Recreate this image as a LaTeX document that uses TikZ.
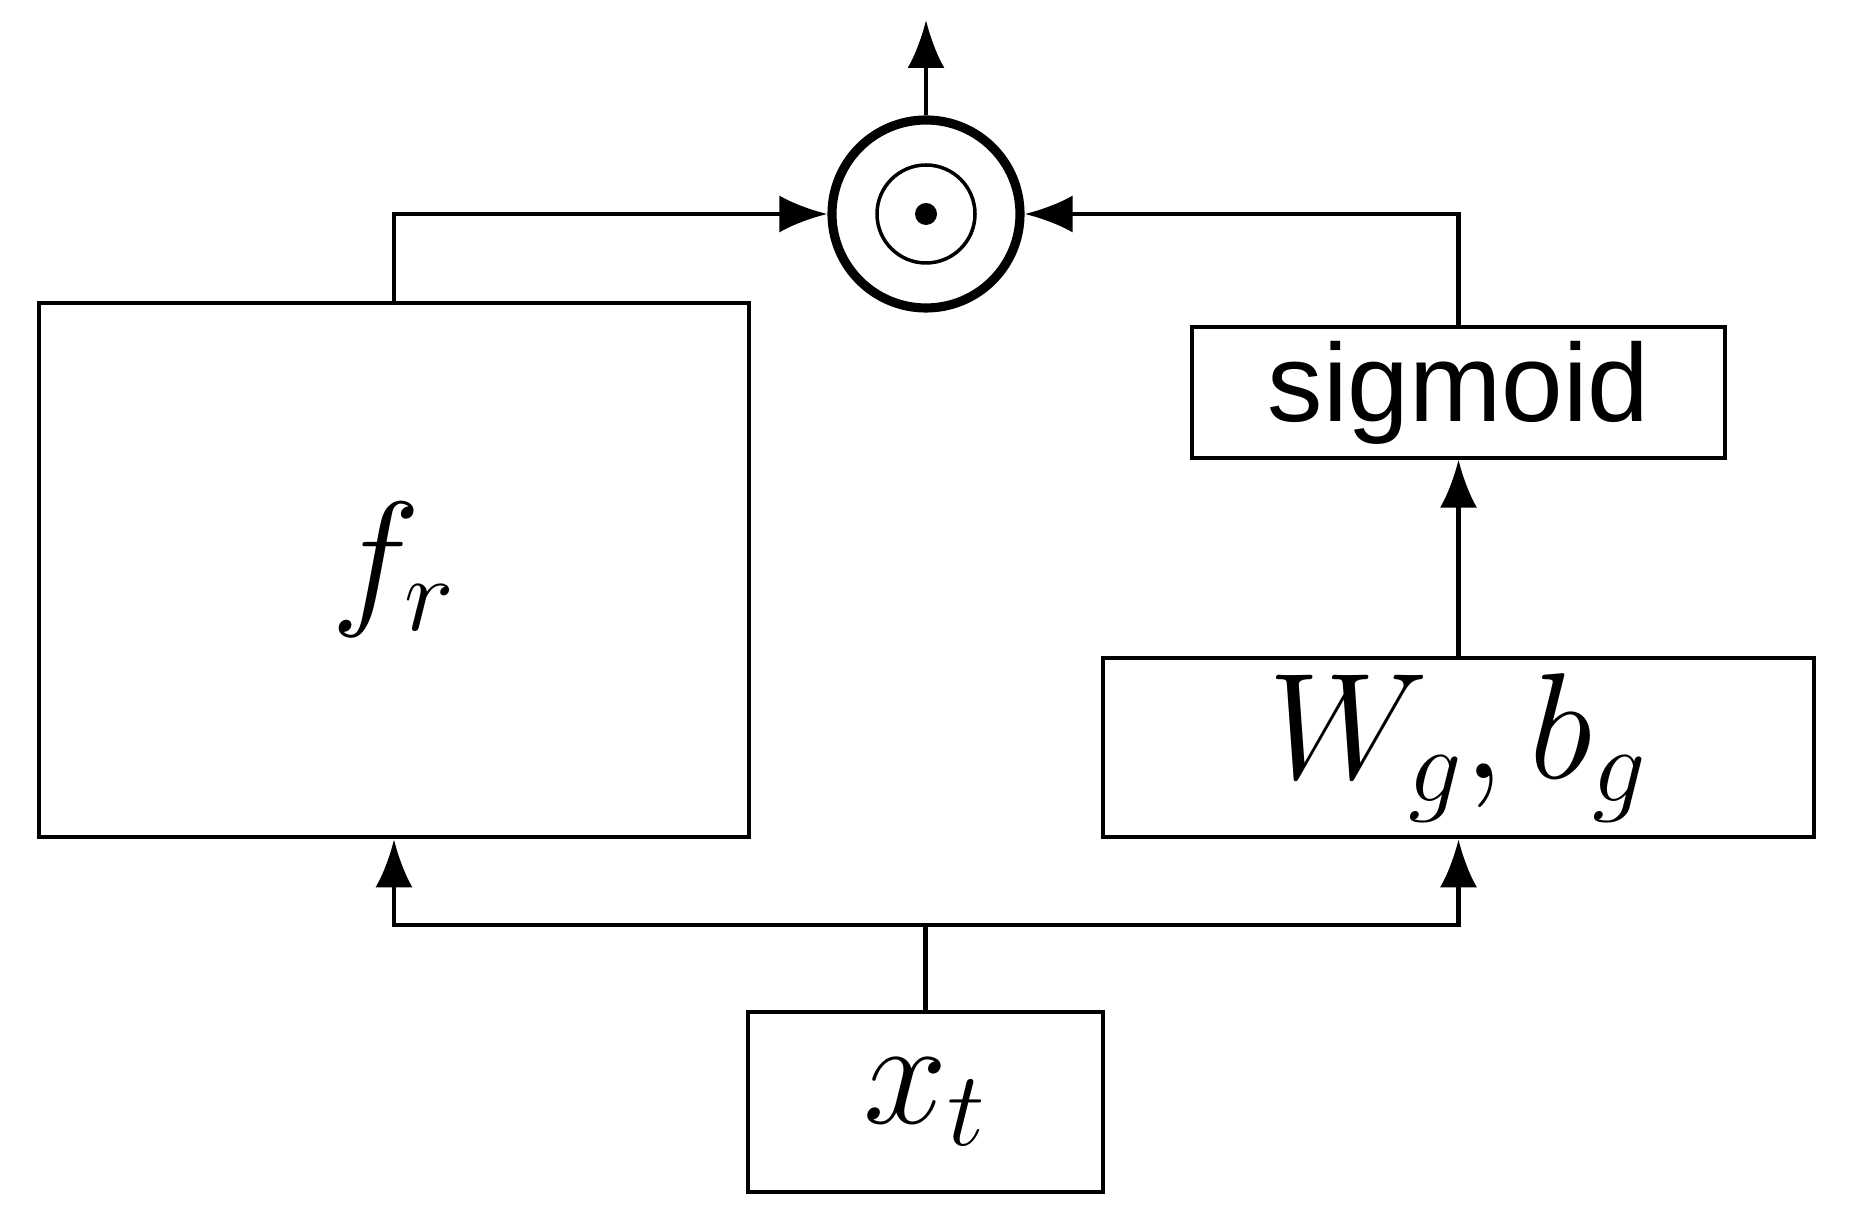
\documentclass[tikz,border=0pt]{standalone}
\usepackage{fix-cm}
\usepackage{fontspec}
\usepackage{tikz}
\usetikzlibrary{positioning,arrows.meta,calc}
\newfontfamily\sigfont{Liberation Sans}
\tikzset{
  blk/.style={rectangle, draw=black, line width=1.3pt, fill=white,
              inner sep=0pt, align=center,
              font=\fontsize{43}{50}\selectfont},
  sigbox/.style={blk, line width=0.9pt, font=\sigfont\fontsize{31.5}{36}\selectfont},
  prod/.style={circle, draw=black, line width=2.6pt, minimum size=18.8mm,
               inner sep=0pt},
  flow/.style={-{Latex[length=4.8mm,width=3.7mm]}, draw=black, line width=1.3pt},
  plain/.style={draw=black, line width=1.3pt},
}

\begin{document}
\begin{tikzpicture}
  \useasboundingbox (0,0) rectangle (18.5,12.18);

  % --- blocks ---
  \node[blk, minimum width=71mm, minimum height=53.4mm] (fr) at (3.94,6.48){$f_r$};
  \node[blk, minimum width=71.1mm, minimum height=17.9mm] (wg) at (14.585,4.705){$W_g, b_g$};
  \node[sigbox, minimum width=53.3mm, minimum height=13.1mm] (sig) at (14.585,8.255){sigmoid};
  \node[blk, minimum width=35.5mm, minimum height=18mm] (xt) at (9.255,1.16){$x_t$};

  % --- elementwise product ---
  \node[prod] (mul) at (9.26,10.04){};
  \draw[line width=1pt] (mul.center) circle (4.9mm);
  \fill (mul.center) circle (1.1mm);
  \coordinate (out) at (9.26,11.98);

  % --- input split ---
  \coordinate (split) at (9.255,2.93);
  \draw[plain] (xt.north) -- (split);
  \draw[flow] (split) -| (fr.south);
  \draw[flow] (split) -| (wg.south);

  % --- gate branch ---
  \draw[flow] (wg.north) -- (sig.south);
  \draw[flow] (sig.north) |- (mul.east);

  % --- residual branch ---
  \draw[flow] (fr.north) |- (mul.west);

  % --- output ---
  \draw[flow] (mul.north) -- (out);
\end{tikzpicture}
\end{document}
